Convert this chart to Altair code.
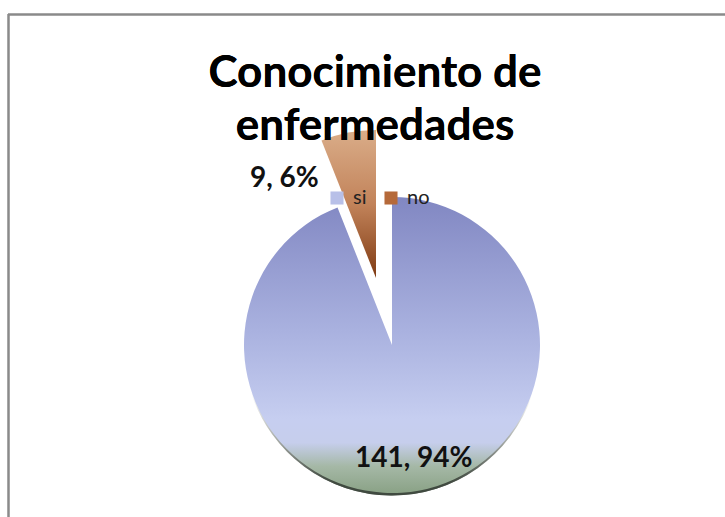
import altair as alt
import pandas as pd

categories = ["si", "no"]
values = [141, 9]
percents = ["94%", "6%"]
title_lines = ["Conocimiento de", "enfermedades"]

df = pd.DataFrame({
    "cat": categories,
    "value": values,
    "idx": list(range(len(categories))),
    "label": [f"{v}, {p}" for v, p in zip(values, percents)],
})

CX, CY, R = 392, 345, 148
FONT = "Lato"

grad_si = {
    "gradient": "linear", "x1": 0, "y1": 0, "x2": 0, "y2": 1,
    "stops": [
        {"offset": 0.0, "color": "#8187C2"},
        {"offset": 0.45, "color": "#A9B1DF"},
        {"offset": 0.75, "color": "#C6CEF0"},
        {"offset": 0.83, "color": "#C6CEEC"},
        {"offset": 0.91, "color": "#A5B8A6"},
        {"offset": 1.0, "color": "#8AA286"},
    ],
}
grad_no = {
    "gradient": "linear", "x1": 0, "y1": 0, "x2": 0, "y2": 1,
    "stops": [
        {"offset": 0.0, "color": "#DAAD89"},
        {"offset": 0.5, "color": "#C2835A"},
        {"offset": 1.0, "color": "#7F3A12"},
    ],
}
grad_rim = {
    "gradient": "linear", "x1": 0, "y1": 0, "x2": 1, "y2": 0,
    "stops": [
        {"offset": 0.0, "color": "rgba(60,70,60,0)"},
        {"offset": 0.3, "color": "rgba(60,70,60,0.85)"},
        {"offset": 0.7, "color": "rgba(60,70,60,0.85)"},
        {"offset": 1.0, "color": "rgba(60,70,60,0)"},
    ],
}

base = alt.Chart(df).encode(
    theta=alt.Theta("value:Q", stack=True),
    order=alt.Order("idx:Q"),
    x=alt.value(CX),
    y=alt.value(CY),
)

frame_left = alt.Chart(df).mark_rule(color="#8A8A8A", strokeWidth=2).encode(
    x=alt.value(8.5), y=alt.value(14), y2=alt.value(517)
)
frame_top = alt.Chart(df).mark_rule(color="#8A8A8A", strokeWidth=2).encode(
    x=alt.value(8), x2=alt.value(725), y=alt.value(14.5)
)

# soft dark rim along the lower edge of the pie (decoration)
rim = alt.Chart(df).mark_arc(
    innerRadius=R - 8, outerRadius=R, fill=grad_rim, yOffset=2.5
).encode(
    x=alt.value(CX), y=alt.value(CY),
    theta=alt.value(1.9), theta2=alt.value(4.4),
)

arc_si = base.mark_arc(outerRadius=R, fill=grad_si).encode(
    opacity=alt.condition(alt.datum.cat == "si", alt.value(1), alt.value(0))
)
arc_no = base.mark_arc(outerRadius=R, fill=grad_no, xOffset=-16, yOffset=-67).encode(
    opacity=alt.condition(alt.datum.cat == "no", alt.value(1), alt.value(0))
)

label_si = base.mark_text(
    radius=116, font=FONT, fontSize=28, fontWeight="bold", color="#111111",
    align="center", baseline="middle",
).encode(
    text="label:N",
    opacity=alt.condition(alt.datum.cat == "si", alt.value(1), alt.value(0)),
)
label_no = base.mark_text(
    radius=169, dx=-76, font=FONT, fontSize=28, fontWeight="bold", color="#111111",
    align="center", baseline="middle",
).encode(
    text="label:N",
    opacity=alt.condition(alt.datum.cat == "no", alt.value(1), alt.value(0)),
)

title = alt.Chart(df).mark_text(
    font=FONT, fontSize=44, fontWeight="bold", color="#000000",
    align="center", baseline="alphabetic", lineHeight=53,
).encode(
    x=alt.value(375), y=alt.value(87), text=alt.value(title_lines)
)

legend_layer = alt.Chart(df).mark_square(opacity=0).encode(
    x=alt.value(0), y=alt.value(0),
    color=alt.Color(
        "cat:N",
        scale=alt.Scale(domain=categories, range=["#B8C0E8", "#B5693A"]),
        legend=alt.Legend(
            title=None, orient="none", legendX=327, legendY=188,
            direction="horizontal", symbolType="square", symbolSize=170,
            symbolOpacity=1, symbolStrokeWidth=0, labelFontSize=20,
            labelFont=FONT, labelColor="#222222", columnPadding=14,
            labelOffset=6,
        ),
    ),
)

chart = alt.layer(
    frame_left, frame_top, rim, arc_si, arc_no, title, legend_layer, label_si, label_no
).properties(
    width=725, height=517, autosize=alt.AutoSizeParams(type="none"), padding=0
).configure_view(stroke=None)

chart.save("out.html", embed_options={"renderer": "svg", "actions": False})
